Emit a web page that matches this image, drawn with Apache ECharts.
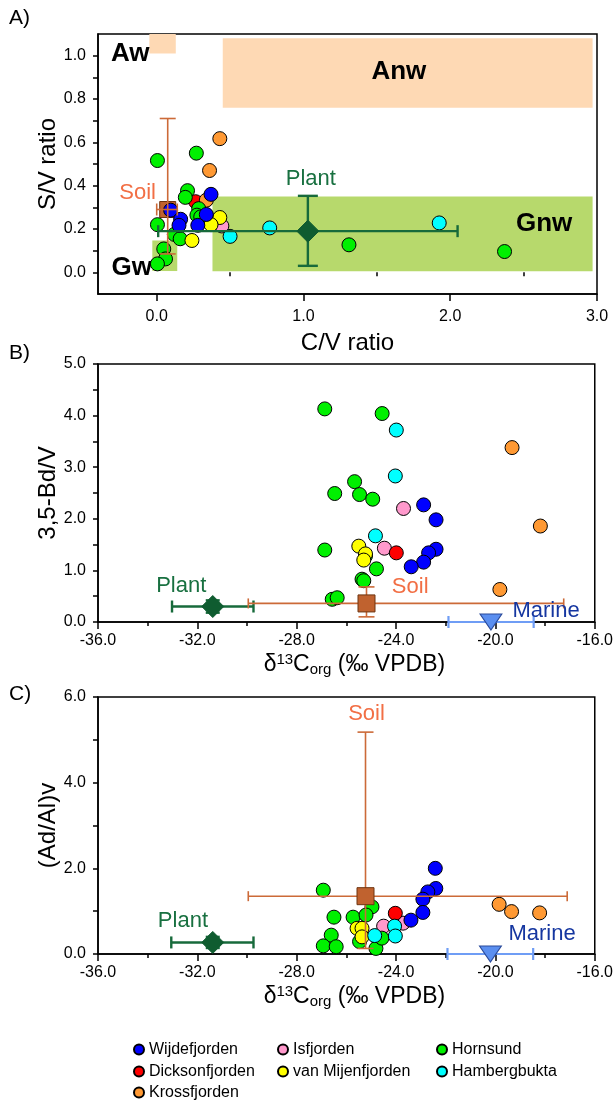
<!DOCTYPE html>
<html><head><meta charset="utf-8">
<script src="https://cdn.jsdelivr.net/npm/echarts@6/dist/echarts.min.js"></script>
<style>html,body{margin:0;padding:0;background:#fff}#c{width:616px;height:1100px}</style>
</head><body><div id="c"></div>
<script>
// ================= DATA =================
const groups = ['Wijdefjorden','Dicksonfjorden','Krossfjorden','Isfjorden','van Mijenfjorden','Hornsund','Hambergbukta'];

// Panel A : [C/V ratio, S/V ratio]
const aWijdefjorden = [[0.37,0.36],[0.095,0.287],[0.163,0.245],[0.152,0.217],[0.338,0.267],[0.28,0.217]];
const aDicksonfjorden = [[0.265,0.326]];
const aKrossfjorden = [[0.43,0.617],[0.36,0.47],[0.338,0.333]];
const aIsfjorden = [[0.444,0.214]];
const aMijenfjorden = [[0.43,0.253],[0.37,0.22],[0.24,0.147]];
const aHornsund = [[0.005,0.516],[0.27,0.55],[0.21,0.377],[0.195,0.346],[0.005,0.22],[0.286,0.294],[0.274,0.264],[0.30,0.256],[0.12,0.175],[0.16,0.155],[0.048,0.108],[0.06,0.062],[0.005,0.039],[1.31,0.127],[2.37,0.096]];
const aHambergbukta = [[0.77,0.205],[1.925,0.228],[0.50,0.166]];

// Panel B : [d13Corg, 3,5-Bd/V]
const bWijdefjorden = [[-22.89,2.27],[-22.39,1.98],[-22.39,1.41],[-22.69,1.34],[-22.89,1.16],[-23.39,1.07]];
const bDicksonfjorden = [[-23.99,1.34]];
const bKrossfjorden = [[-19.33,3.38],[-18.19,1.86],[-19.82,0.63]];
const bIsfjorden = [[-23.70,2.20],[-24.47,1.43]];
const bMijenfjorden = [[-25.50,1.47],[-25.23,1.32],[-25.30,1.20]];
const bHornsund = [[-26.87,4.13],[-24.56,4.04],[-25.67,2.72],[-26.47,2.49],[-25.47,2.47],[-24.94,2.38],[-26.87,1.395],[-25.23,1.28],[-24.79,1.03],[-25.37,0.83],[-25.30,0.80],[-26.57,0.44],[-26.37,0.47]];
const bHambergbukta = [[-23.99,3.72],[-24.03,2.83],[-24.83,1.67]];

// Panel C : [d13Corg, (Ad/Al)v]
const cWijdefjorden = [[-22.42,2.00],[-22.40,1.53],[-22.72,1.45],[-22.92,1.28],[-22.92,0.97],[-23.40,0.79]];
const cDicksonfjorden = [[-24.03,0.95]];
const cKrossfjorden = [[-19.85,1.16],[-19.35,0.99],[-18.22,0.96]];
const cIsfjorden = [[-24.50,0.65],[-23.72,0.72]];
const cMijenfjorden = [[-25.57,0.60],[-25.37,0.60],[-25.37,0.40]];
const cHornsund = [[-26.93,1.49],[-24.97,1.10],[-26.50,0.86],[-25.73,0.86],[-25.21,0.91],[-26.61,0.44],[-26.93,0.19],[-26.41,0.17],[-24.81,0.13],[-24.57,0.37],[-25.47,0.29]];
const cHambergbukta = [[-24.06,0.65],[-24.03,0.42],[-24.86,0.43]];

// End-members : [x, y, xMin, xMax, yMin, yMax]
const plantA = [1.03, 0.19, 0.01, 2.05, 0.03, 0.353];
const soilA = [0.075, 0.29, 0.0, 0.14, 0.085, 0.71];
const plantB = [-31.38, 0.30, -33.02, -29.74, 0.18, 0.42];
const soilB = [-25.19, 0.36, -29.95, -17.25, 0.10, 0.68];
const marineB = [-20.18, 0.0, -21.89, -18.46, 0.0, 0.0];
const plantC = [-31.38, 0.27, -33.05, -29.74, 0.14, 0.40];
const soilC = [-25.23, 1.35, -29.95, -17.11, 0.13, 5.18];
const marineC = [-20.2, 0.0, -21.93, -18.48, 0.0, 0.0];

// Panel A source fields: [xMin, xMax, yMin, yMax]
const regionNames = ['Aw','Anw','Gnw','Gw'];
const regionBounds = [[-0.05,0.13,1.01,1.10],[0.45,2.97,0.76,1.08],[0.38,2.97,0.005,0.35],[-0.03,0.14,0.006,0.147]];

// Tick labels
const xTicksA = [0,1,2,3];
const xMinorA = [0.5,1.5,2.5];
const yTicksA = [0,0.2,0.4,0.6,0.8,1.0];
const yMinorA = [0,0.1,0.2,0.3,0.4,0.5,0.6,0.7,0.8,0.9,1.0];
const xTicksBC = [-36,-32,-28,-24,-20,-16];
const xMinorBC = [-34,-30,-26,-22,-18];
const yTicksB = [0,1,2,3,4,5];
const yMinorB = [0,0.5,1,1.5,2,2.5,3,3.5,4,4.5,5];
const yTicksC = [0,2,4,6];
const yMinorC = [0,1,2,3,4,5,6];

// ================= STYLE / BUILD =================
const FONT = '"Liberation Sans", Arial, Helvetica, sans-serif';
const colors = {
  'Wijdefjorden':'#0000ff','Dicksonfjorden':'#ff0000','Krossfjorden':'#ff9933',
  'Isfjorden':'#ff99cc','van Mijenfjorden':'#ffff00','Hornsund':'#00f000','Hambergbukta':'#00ffff'
};
const PLANT = '#0f5c30', PLANT_LINE = '#176a3b', PLANT_TXT = '#187040';
const SOIL = '#c0622f', SOIL_LINE = '#cc6a38', SOIL_TXT = '#f26f45';
const MARINE = '#5b8ff0', MARINE_LINE = '#6f9df5', MARINE_TXT = '#1536a0';

const panelData = [
  {'Wijdefjorden':aWijdefjorden,'Dicksonfjorden':aDicksonfjorden,'Krossfjorden':aKrossfjorden,'Isfjorden':aIsfjorden,'van Mijenfjorden':aMijenfjorden,'Hornsund':aHornsund,'Hambergbukta':aHambergbukta},
  {'Wijdefjorden':bWijdefjorden,'Dicksonfjorden':bDicksonfjorden,'Krossfjorden':bKrossfjorden,'Isfjorden':bIsfjorden,'van Mijenfjorden':bMijenfjorden,'Hornsund':bHornsund,'Hambergbukta':bHambergbukta},
  {'Wijdefjorden':cWijdefjorden,'Dicksonfjorden':cDicksonfjorden,'Krossfjorden':cKrossfjorden,'Isfjorden':cIsfjorden,'van Mijenfjorden':cMijenfjorden,'Hornsund':cHornsund,'Hambergbukta':cHambergbukta}
];
const drawOrder = ['Isfjorden','Dicksonfjorden','Krossfjorden','Hornsund','van Mijenfjorden','Hambergbukta','Wijdefjorden'];

const fmt1 = v => Number(v).toFixed(1);
function xMain(grid, min, max, ticks, name, gap, lblMargin, shift) {
  return {type:'value', gridIndex:grid, min, max, position:'bottom',
    name, nameLocation:'middle', nameGap:gap, nameMoveOverlap:false,
    nameTextStyle:{fontFamily:FONT, fontSize:24, color:'#000', padding:[0,0,0,shift||0],
      rich:{n:{fontFamily:FONT,fontSize:23,color:'#000'},
            sup:{fontFamily:FONT,fontSize:15,color:'#000',padding:[0,0,10,0]},
            sub:{fontFamily:FONT,fontSize:15,color:'#000',padding:[10,0,0,0]}}},
    axisLine:{show:true, onZero:false, lineStyle:{color:'#000', width:1.5}},
    axisTick:{show:true, length:7, customValues:ticks, lineStyle:{color:'#000', width:1.5}},
    axisLabel:{customValues:ticks, formatter:fmt1, fontFamily:FONT, fontSize:16, color:'#000', margin:lblMargin},
    splitLine:{show:false}};
}
function xMinor(grid, min, max, ticks) {
  return {type:'value', gridIndex:grid, min, max, position:'bottom',
    axisLine:{show:false}, axisLabel:{show:false}, splitLine:{show:false},
    axisTick:{show:true, length:4, customValues:ticks, lineStyle:{color:'#000', width:1.5}}};
}
function yAxisDef(grid, min, max, labels, ticks, name, gap) {
  return {type:'value', gridIndex:grid, min, max, position:'left',
    name, nameLocation:'middle', nameGap:gap, nameMoveOverlap:false,
    nameTextStyle:{fontFamily:FONT, fontSize:24, color:'#000'},
    axisLine:{show:true, onZero:false, lineStyle:{color:'#000', width:1.5}},
    axisTick:{show:true, length:5, customValues:ticks, lineStyle:{color:'#000', width:1.5}},
    axisLabel:{customValues:labels, formatter:fmt1, fontFamily:FONT, fontSize:16, color:'#000', margin:12},
    splitLine:{show:false}};
}

function errSeries(ref, xi, color, lw, capX, capY, z) {
  return {type:'custom', xAxisIndex:xi, yAxisIndex:xi/2, silent:true, z, data:[ref],
    renderItem:function(params, api){
      const l = api.coord([ref[2], ref[1]]), r = api.coord([ref[3], ref[1]]);
      const b = api.coord([ref[0], ref[4]]), t = api.coord([ref[0], ref[5]]);
      const st = {stroke:color, lineWidth:lw};
      const ch = [];
      const line = (x1,y1,x2,y2)=>ch.push({type:'line', shape:{x1,y1,x2,y2}, style:st});
      if (ref[3] > ref[2]) { line(l[0],l[1],r[0],r[1]); line(l[0],l[1]-capY,l[0],l[1]+capY); line(r[0],r[1]-capY,r[0],r[1]+capY); }
      if (ref[5] > ref[4]) { line(b[0],b[1],t[0],t[1]); line(b[0]-capX,b[1],b[0]+capX,b[1]); line(t[0]-capX,t[1],t[0]+capX,t[1]); }
      return {type:'group', children:ch};
    }};
}
function markerSeries(ref, xi, symbol, size, color, border, z, rotate) {
  return {type:'scatter', xAxisIndex:xi, yAxisIndex:xi/2, silent:true, z, clip:false,
    symbol, symbolSize:size, symbolRotate:rotate||0,
    itemStyle:{color, borderColor:border, borderWidth:1, opacity:1},
    data:[[ref[0], ref[1]]]};
}
function textSeries(xi, items, z) {
  return {type:'scatter', xAxisIndex:xi, yAxisIndex:xi/2, silent:true, z, symbolSize:1, clip:false,
    itemStyle:{color:'rgba(0,0,0,0)', opacity:1},
    data: items.map(it => ({value:[it.x, it.y], label:{show:true, position:'inside', formatter:it.t,
      fontFamily:FONT, fontSize:it.fs, fontWeight:it.bold?'bold':'normal', color:it.c,
      textBorderWidth:0, opacity:1}}))};
}

const series = [];
// Panel A regions
series.push({type:'custom', xAxisIndex:0, yAxisIndex:0, silent:true, z:1,
  data: regionBounds,
  renderItem:function(params, api){
    const p0 = api.coord([api.value(0), api.value(3)]);
    const p1 = api.coord([api.value(1), api.value(2)]);
    const nm = regionNames[params.dataIndex];
    return {type:'rect', shape:{x:p0[0], y:p0[1], width:p1[0]-p0[0], height:p1[1]-p0[1]},
      style:{fill: nm[0]==='A' ? '#fed9b4' : '#b7d96c'}};
  }});
series.push(textSeries(0, [
  {t:'Aw', x:-0.18, y:1.01, fs:26, bold:true, c:'#000'},
  {t:'Anw', x:1.65, y:0.925, fs:26, bold:true, c:'#000'},
  {t:'Gnw', x:2.64, y:0.225, fs:26, bold:true, c:'#000'},
  {t:'Gw', x:-0.17, y:0.022, fs:26, bold:true, c:'#000'},
  {t:'Plant', x:1.05, y:0.43, fs:22, c:PLANT_TXT},
  {t:'Soil', x:-0.13, y:0.365, fs:22, c:SOIL_TXT}
], 2));
series.push(markerSeries(soilA, 0, 'rect', 16, SOIL, '#6e3410', 3));

// scatter groups
for (let p = 0; p < 3; p++) {
  drawOrder.forEach(g => {
    series.push({type:'scatter', name:g, xAxisIndex:p*2, yAxisIndex:p, z:5, clip:false,
      symbol:'circle', symbolSize:14,
      itemStyle:{color:colors[g], borderColor:'#000', borderWidth:1, opacity:1},
      data: panelData[p][g]});
  });
}
// Panel A end-members
series.push(errSeries(soilA, 0, SOIL_LINE, 1.6, 8, 6, 8));
series.push(errSeries(plantA, 0, PLANT_LINE, 2.4, 10, 6, 8));
series.push(markerSeries(plantA, 0, 'diamond', 22, PLANT, PLANT, 9));
// Panel B
series.push(errSeries(plantB, 2, PLANT_LINE, 2.4, 7, 6, 8));
series.push(errSeries(soilB, 2, SOIL_LINE, 1.6, 8, 5, 8));
series.push(errSeries(marineB, 2, MARINE_LINE, 2.2, 6, 6, 8));
series.push(markerSeries(plantB, 2, 'diamond', 22, PLANT, PLANT, 9));
series.push(markerSeries(soilB, 2, 'rect', 17, SOIL, '#6e3410', 9));
series.push(markerSeries(marineB, 2, 'triangle', [22,16], MARINE, '#2a4a9a', 9, 180));
series.push(textSeries(2, [
  {t:'Plant', x:-32.65, y:0.70, fs:22, c:PLANT_TXT},
  {t:'Soil', x:-23.43, y:0.68, fs:22, c:SOIL_TXT},
  {t:'Marine', x:-17.96, y:0.21, fs:22, c:MARINE_TXT}
], 10));
// Panel C
series.push(errSeries(plantC, 4, PLANT_LINE, 2.4, 7, 6, 8));
series.push(errSeries(soilC, 4, SOIL_LINE, 1.6, 8, 5, 8));
series.push(errSeries(marineC, 4, MARINE_LINE, 2.2, 6, 6, 8));
series.push(markerSeries(plantC, 4, 'diamond', 22, PLANT, PLANT, 9));
series.push(markerSeries(soilC, 4, 'rect', 17, SOIL, '#6e3410', 9));
series.push(markerSeries(marineC, 4, 'triangle', [22,16], MARINE, '#2a4a9a', 9, 180));
series.push(textSeries(4, [
  {t:'Plant', x:-32.58, y:0.78, fs:22, c:PLANT_TXT},
  {t:'Soil', x:-25.19, y:5.60, fs:22, c:SOIL_TXT},
  {t:'Marine', x:-18.12, y:0.47, fs:22, c:MARINE_TXT}
], 10));

const dName = '{n|δ}{sup|13}{n|C}{sub|org}{n| (‰ VPDB)}';
const legendBase = {orient:'vertical', icon:'circle', itemWidth:10, itemHeight:10, itemGap:5, padding:0,
  selectedMode:false, textStyle:{fontFamily:FONT, fontSize:16, color:'#000', lineHeight:17}};

const option = {
  animation:false,
  backgroundColor:'#fff',
  grid:[
    {left:98, top:34, width:499, height:260, show:true, borderColor:'#000', borderWidth:1.5, backgroundColor:'transparent'},
    {left:98, top:364, width:499, height:258, show:true, borderColor:'#000', borderWidth:1.5, backgroundColor:'transparent'},
    {left:98, top:697, width:499, height:257, show:true, borderColor:'#000', borderWidth:1.5, backgroundColor:'transparent'}
  ],
  xAxis:[
    xMain(0, -0.4, 3.0, xTicksA, 'C/V ratio', 37, 15, 0), xMinor(0, -0.4, 3.0, xMinorA),
    xMain(1, -36, -16, xTicksBC, dName, 30, 11, 16), xMinor(1, -36, -16, xMinorBC),
    xMain(2, -36, -16, xTicksBC, dName, 30, 11, 16), xMinor(2, -36, -16, xMinorBC)
  ],
  yAxis:[
    yAxisDef(0, -0.1, 1.1, yTicksA, yMinorA, 'S/V ratio', 38),
    yAxisDef(1, 0, 5, yTicksB, yMinorB, '3,5-Bd/V', 38),
    yAxisDef(2, 0, 6, yTicksC, yMinorC, '(Ad/Al)v', 38)
  ],
  legend:[
    Object.assign({left:133, top:1041, data:['Wijdefjorden','Dicksonfjorden']}, legendBase),
    Object.assign({left:133, top:1084, data:['Krossfjorden']}, legendBase),
    Object.assign({left:277, top:1041, data:['Isfjorden','van Mijenfjorden']}, legendBase),
    Object.assign({left:436, top:1041, data:['Hornsund','Hambergbukta']}, legendBase)
  ],
  graphic:[
    {type:'text', left:9, top:8, style:{text:'A)', font:'21px '+FONT, fill:'#000'}},
    {type:'text', left:9, top:343, style:{text:'B)', font:'21px '+FONT, fill:'#000'}},
    {type:'text', left:9, top:684, style:{text:'C)', font:'21px '+FONT, fill:'#000'}}
  ],
  series
};
const chart = echarts.init(document.getElementById('c'), null, {renderer:'canvas'});
chart.setOption(option);
</script></body></html>
